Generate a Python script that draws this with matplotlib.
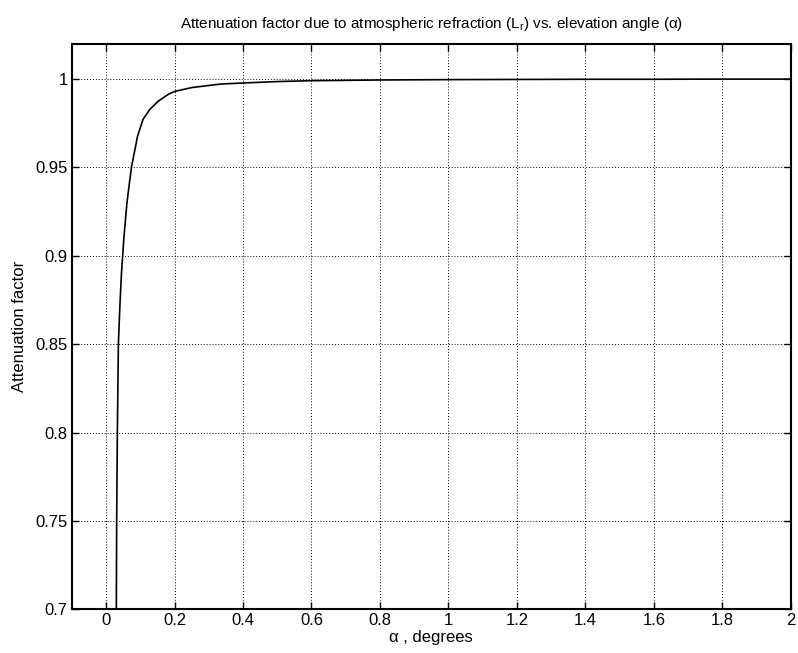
import matplotlib
matplotlib.use("Agg")
import matplotlib.pyplot as plt

plt.rcParams['font.family'] = ['Liberation Sans', 'DejaVu Sans']
plt.rcParams['mathtext.fontset'] = 'custom'
plt.rcParams['mathtext.rm'] = 'Liberation Sans'
plt.rcParams['mathtext.it'] = 'Liberation Sans:italic'

# Data
alpha_deg = [0.030, 0.031, 0.033, 0.036, 0.040, 0.045, 0.052, 0.061, 0.074,
             0.092, 0.108, 0.128, 0.153, 0.182, 0.200, 0.250, 0.335, 0.400,
             0.500, 0.600, 0.800, 1.000, 1.200, 1.400, 1.600, 1.800, 2.000]
atten = [0.700, 0.750, 0.800, 0.850, 0.870, 0.890, 0.910, 0.930, 0.950,
         0.9677, 0.9772, 0.9829, 0.9876, 0.9914, 0.9930, 0.9952, 0.9972, 0.9978,
         0.9986, 0.9991, 0.9995, 0.9997, 0.9998, 0.9999, 0.9999, 1.0000, 1.0000]

xticks = [0, 0.2, 0.4, 0.6, 0.8, 1, 1.2, 1.4, 1.6, 1.8, 2]
xticklabels = ['0', '0.2', '0.4', '0.6', '0.8', '1', '1.2', '1.4', '1.6', '1.8', '2']
yticks = [0.7, 0.75, 0.8, 0.85, 0.9, 0.95, 1.0]
yticklabels = ['0.7', '0.75', '0.8', '0.85', '0.9', '0.95', '1']

fig = plt.figure(figsize=(7.98, 6.53), dpi=100)
ax = fig.add_axes([0.090, 0.067, 0.901, 0.866])

ax.plot(alpha_deg, atten, color='black', linewidth=1.2)

ax.set_xlim(-0.1, 2.0)
ax.set_ylim(0.7, 1.02)
ax.set_xticks(xticks)
ax.set_xticklabels(xticklabels)
ax.set_yticks(yticks)
ax.set_yticklabels(yticklabels)

ax.grid(True, linestyle=(0, (1, 2)), color='black', linewidth=0.7)
ax.tick_params(direction='in', length=5, width=1.0, top=True, right=True,
               labelsize=12, colors='black', pad=3)
for s in ax.spines.values():
    s.set_linewidth(1.5)

ax.set_title('Attenuation factor due to atmospheric refraction (L$_\\mathrm{r}$) vs. elevation angle (α)',
             fontsize=11, pad=11)
ax.set_xlabel('α , degrees', fontsize=12, labelpad=1)
ax.set_ylabel('Attenuation factor', fontsize=12, labelpad=6)

fig.savefig('out.png', dpi=100)
